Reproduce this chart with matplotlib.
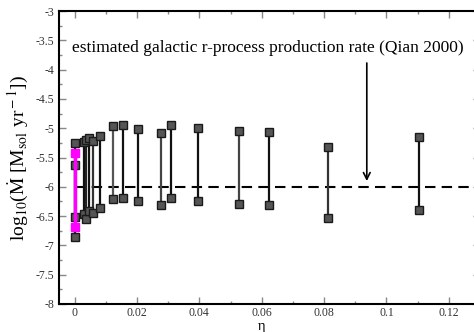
import numpy as np
import matplotlib.pyplot as plt
from matplotlib.ticker import MultipleLocator

plt.rcParams['mathtext.fontset'] = 'stix'

# valores
eta = [0.0, 0.0, 0.003, 0.0035, 0.0045, 0.006, 0.008, 0.0122, 0.0156, 0.0204,
       0.0276, 0.0309, 0.0397, 0.0528, 0.0622, 0.0811, 0.1105]
upper = [-5.26, -5.63, -5.24, -5.20, -5.16, -5.21, -5.13, -4.96, -4.945, -5.01,
         -5.08, -4.945, -4.99, -5.05, -5.07, -5.32, -5.155]
lower = [-6.85, -6.51, -6.47, -6.55, -6.41, -6.45, -6.37, -6.20, -6.19, -6.25,
         -6.31, -6.19, -6.24, -6.29, -6.305, -6.54, -6.40]
shade = ['#111111', '#111111', '#111111', '#222222', '#111111', '#333333', '#111111',
         '#555555', '#111111', '#111111', '#444444', '#111111', '#111111',
         '#444444', '#111111', '#333333', '#111111']

# barra magenta en eta = 0
eta_m = 0.0
upper_m = -5.43
lower_m = -6.68

rate_qian = -6.0

fig = plt.figure(figsize=(4.74, 3.32), dpi=100)
ax = fig.add_axes([59 / 474, 28 / 332, 421 / 474, 293 / 332])

for x, a, b, c in zip(eta, upper, lower, shade):
    ax.plot([x, x], [a, b], color=c, lw=1.6, zorder=2)
    ax.plot([x, x], [a, b], ls='none', marker='s', ms=5.5,
            mfc='#555555', mec='#1a1a1a', mew=1.0, zorder=3)

ax.plot([eta_m, eta_m], [upper_m, lower_m], color='#ff00ff', lw=2.5, zorder=4)
ax.plot([eta_m, eta_m], [upper_m, lower_m], ls='none', marker='s', ms=6,
        mfc='#ff00ff', mec='#ff00ff', zorder=5)

ax.plot([0, 0.13], [rate_qian, rate_qian], color='black', ls=(0, (5, 3)), lw=1.5, zorder=1)

ax.text(-0.0008, -3.63, 'estimated galactic r-process production rate (Qian 2000)',
        family='Liberation Serif', fontsize=12.5, va='center', ha='left')
ax.annotate('', xy=(0.0937, -5.95), xytext=(0.0937, -3.84),
            arrowprops=dict(arrowstyle='->', color='black', lw=1.2,
                            mutation_scale=12))

ax.set_xlim(-0.005, 0.13)
ax.set_ylim(-8, -3)
ax.xaxis.set_major_locator(MultipleLocator(0.02))
ax.xaxis.set_minor_locator(MultipleLocator(0.01))
ax.yaxis.set_major_locator(MultipleLocator(0.5))
ax.yaxis.set_minor_locator(MultipleLocator(0.25))
ax.set_xticks([0, 0.02, 0.04, 0.06, 0.08, 0.1, 0.12])
ax.set_xticklabels(['0', '0.02', '0.04', '0.06', '0.08', '0.1', '0.12'])
ax.set_yticks(np.arange(-8, -2.9, 0.5))
ax.set_yticklabels(['-8', '-7.5', '-7', '-6.5', '-6', '-5.5', '-5', '-4.5', '-4', '-3.5', '-3'])
ax.tick_params(which='both', direction='in', top=True, right=True,
               colors='#888888', labelcolor='#333333', labelsize=8.5)
ax.tick_params(which='major', length=5, width=1)
ax.tick_params(which='minor', length=2.5, width=1)
ax.tick_params(axis='x', pad=2)
for lab in ax.get_xticklabels() + ax.get_yticklabels():
    lab.set_family('Liberation Serif')
for s in ax.spines.values():
    s.set_linewidth(1.5)

ax.set_xlabel('η', family='Liberation Serif', fontsize=10.5)
ax.xaxis.set_label_coords(0.482, -0.053)
ax.set_ylabel(r'log$_{10}$($\dot{\rm M}$ [M$_{\rm sol}$ yr$^{\rm -1}$])',
              family='Liberation Serif', fontsize=14, labelpad=4)

fig.savefig('out.png', dpi=100)
